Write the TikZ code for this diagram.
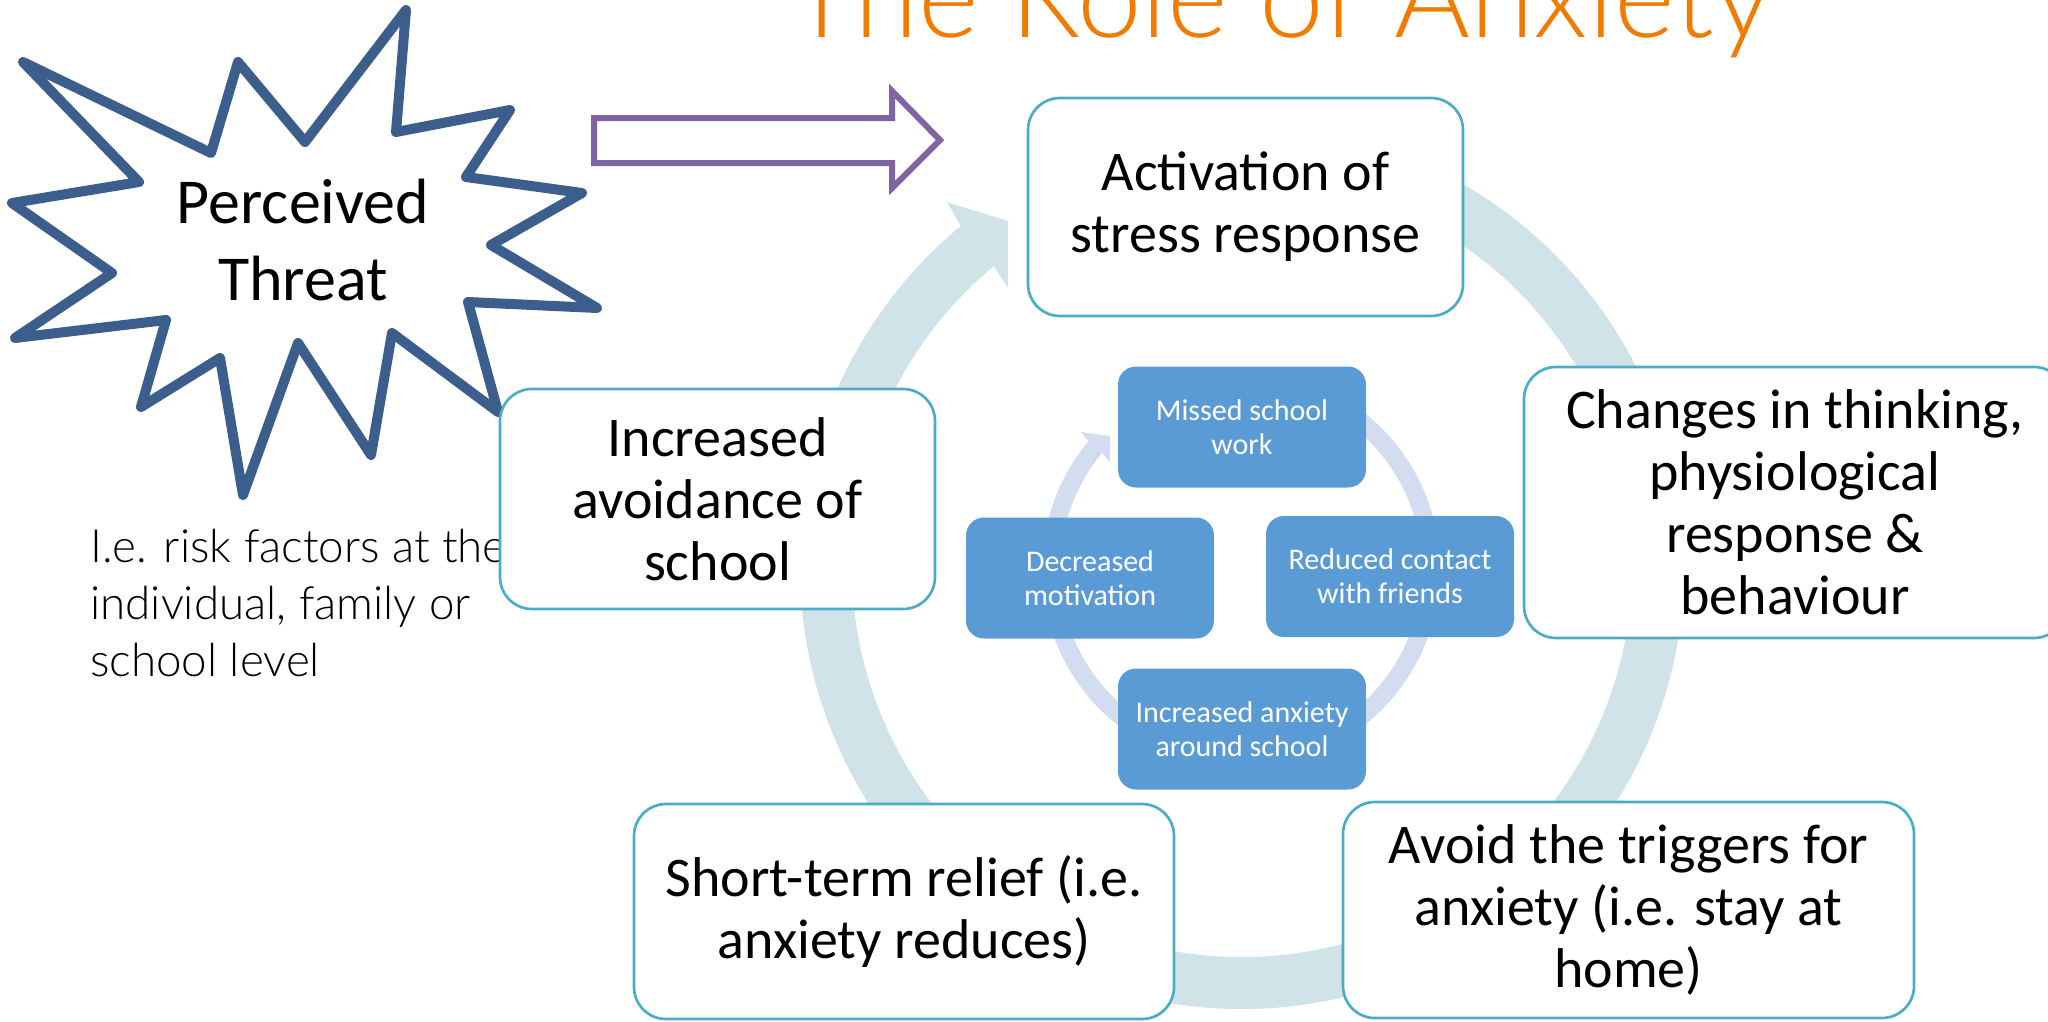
\documentclass[tikz,border=0pt]{standalone}
\usepackage{fontspec}
\setmainfont{Carlito}
\IfFontExistsTF{Lato Light}{\newfontfamily\lightfont{Lato Light}}{\newfontfamily\lightfont{Open Sans}}
\usetikzlibrary{calc}
\definecolor{titleorange}{RGB}{240,123,0}
\definecolor{starblue}{RGB}{59,94,140}
\definecolor{arrowpurple}{RGB}{128,100,162}
\definecolor{boxteal}{RGB}{75,172,198}
\definecolor{ringblue}{RGB}{208,227,233}
\definecolor{innerblue}{RGB}{91,155,213}
\definecolor{innerring}{RGB}{210,222,239}
\tikzset{
  obox/.style={draw=boxteal, line width=2pt, fill=white, rounded corners=24pt,
    align=center, inner sep=0pt, font=\fontsize{42}{46.5}\selectfont},
  ibox/.style={fill=innerblue, rounded corners=13.5pt, align=center, text=white,
    inner sep=0pt, minimum width=186pt, minimum height=90.75pt,
    font=\fontsize{22.5}{25.5}\selectfont},
  outerring/.style={draw=ringblue, line width=39pt},
  innerringstyle/.style={draw=innerring, line width=13.5pt},
  starshape/.style={draw=starblue, fill=white, line width=7.5pt, line join=round},
  blockarrow/.style={draw=arrowpurple, fill=white, line width=4.5pt, line join=miter}
}
\begin{document}
\begin{tikzpicture}[x=0.75pt,y=-0.75pt]
\useasboundingbox (0,0) rectangle (2048,1021);
\clip (0,0) rectangle (2048,1021);

% outer continuous cycle ring
\coordinate (oc) at (1242,567);
\draw[outerring] ($(oc)+(-65:416)$) arc[start angle=-65, end angle=231, radius=416];
\fill[ringblue] (960.8,226) -- (947,202) -- (1008,221) -- (1008,288) -- (993.9,266.1) -- cycle;

% inner continuous cycle ring
\coordinate (ic) at (1241,569);
\draw[innerringstyle] ($(ic)+(-60:190)$) arc[start angle=-60, end angle=221, radius=190];
\fill[innerring] (1088.6,441.1) -- (1081,432) -- (1110,436) -- (1110,463) -- (1102.4,452.7) -- cycle;

% inner boxes
\node[ibox] (miss) at (1242,427) {Missed school\\work};
\node[ibox] (dec) at (1090,578) {Decreased\\motivation};
\node[ibox] (red) at (1390,576.5) {Reduced contact\\with friends};
\node[ibox] (anx) at (1242,729) {Increased anxiety\\around school};

% side text
\node[anchor=west, align=left, inner sep=0pt, font=\lightfont\fontsize{34.3}{43}\selectfont] (risk) at (90,603)
  {I.e. risk factors at the\\individual, family or\\school level};

% star
\draw[starshape] (406,10) -- (396,132) -- (510,110) -- (466,177) -- (582,193) -- (491,245)
  -- (597,308) -- (468,302) -- (498,412) -- (392,333) -- (371,455) -- (298,343)
  -- (243,495) -- (220,358) -- (141,407) -- (166,320) -- (15,338) -- (112,273)
  -- (12,203) -- (139,182) -- (23,62) -- (211,153) -- (238,62) -- (305,142) -- cycle;
\node[align=center, inner sep=0pt, font=\fontsize{48}{57.75}\selectfont] (threat) at (303,240) {Perceived\\Threat};

% outer boxes
\node[obox, minimum width=326.25pt, minimum height=163.5pt] (act) at (1245.5,207) {Activation of\\stress response};
\node[obox, minimum width=406.5pt, minimum height=203.25pt] (chg) at (1795,502.5) {Changes in thinking,\\physiological\\response \&\\behaviour};
\node[obox, minimum width=428.25pt, minimum height=162pt] (avd) at (1628.5,910) {Avoid the triggers for\\anxiety (i.e. stay at\\home)};
\node[obox, minimum width=405pt, minimum height=161.25pt] (rel) at (904,911.5) {Short-term relief (i.e.\\anxiety reduces)};
\node[obox, minimum width=326.25pt, minimum height=165pt] (avo) at (717.5,499) {Increased\\avoidance of\\school};

% block arrow
\draw[blockarrow] (594,118) -- (892,118) -- (892,91) -- (940,140) -- (892,188) -- (892,163) -- (594,163) -- cycle;

% title
\node[anchor=base west, inner sep=0pt, text=titleorange, font=\lightfont\fontsize{87}{90}\selectfont] (title) at (788,37) {The Role of Anxiety};
\end{tikzpicture}
\end{document}
